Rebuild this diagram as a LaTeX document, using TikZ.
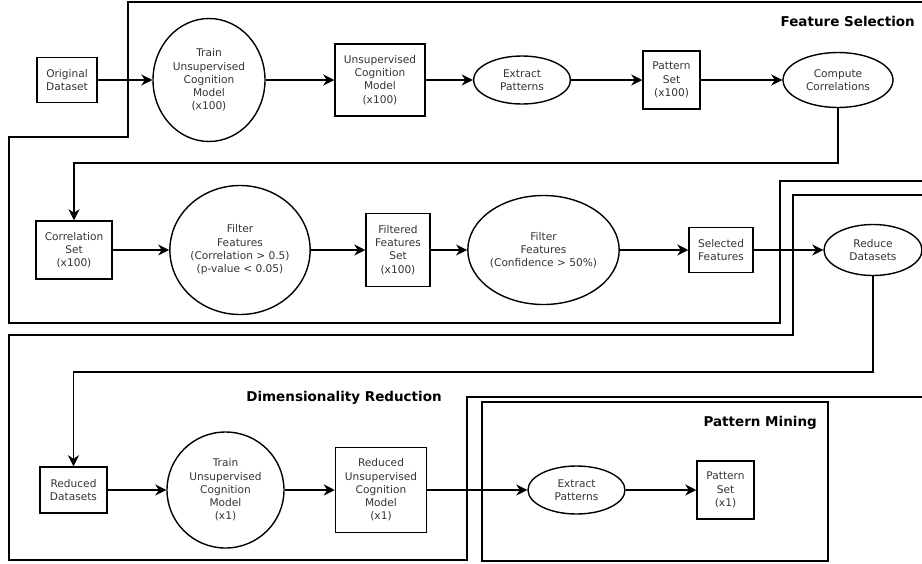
\documentclass[tikz,border=0pt]{standalone}
\usepackage{fontspec}
\setmainfont{DejaVu Sans}
\usetikzlibrary{shapes.geometric,arrows.meta}
\newcommand{\nodefont}{\fontsize{10.6}{13.3}\selectfont}
\begin{document}
\begin{tikzpicture}[x=1pt,y=-1pt,
  box/.style={draw, rectangle, line width=1.5pt, inner sep=0pt, align=center, font=\nodefont, text=black!80},
  ell/.style={draw, ellipse, line width=1.4pt, inner sep=0pt, align=center, font=\nodefont, text=black!80},
  arr/.style={-{Stealth[length=11pt,width=11pt,inset=3.5pt]}, line width=1.4pt},
  region/.style={line width=1.6pt},
  title/.style={font=\bfseries\fontsize{13.5}{16}\selectfont, inner sep=0pt}]
\useasboundingbox (0,0) rectangle (922,563);

% regions
\draw[region] (922,2) -- (128,2) -- (128,137) -- (9,137) -- (9,323) -- (780,323) -- (780,181) -- (922,181);
\draw[region] (922,195) -- (793,195) -- (793,335) -- (9,335) -- (9,560) -- (467,560) -- (467,397) -- (922,397);
\draw[region] (482,402) rectangle (828,561);

\node[title, anchor=east] (tfs) at (915,21) {Feature Selection};
\node[title] (tdr) at (344,398) {Dimensionality Reduction};
\node[title, anchor=east] (tpm) at (817,423) {Pattern Mining};

% row 1
\node[box, minimum width=60pt, minimum height=45pt] (orig) at (67,80) {Original\\Dataset};
\node[ell, minimum width=112pt, minimum height=123pt] (train1) at (209,80) {Train\\Unsupervised\\Cognition\\Model\\(x100)};
\node[box, minimum width=90pt, minimum height=72pt] (ucm) at (380,80) {Unsupervised\\Cognition\\Model\\(x100)};
\node[ell, minimum width=97pt, minimum height=48pt] (ext1) at (522,80) {Extract\\Patterns};
\node[box, minimum width=57pt, minimum height=58pt] (ps1) at (671.5,80) {Pattern\\Set\\(x100)};
\node[ell, minimum width=110pt, minimum height=55pt] (cc) at (838,80) {Compute\\Correlations};

% row 2
\node[box, minimum width=76pt, minimum height=58pt] (corrset) at (74,250) {Correlation\\Set\\(x100)};
\node[ell, minimum width=132pt, minimum height=129pt] (filt1) at (240,250) {Filter\\Features\\(Correlation > 0.5)\\(p-value < 0.05)};
\node[box, minimum width=64pt, minimum height=73pt] (ffset) at (398,250) {Filtered\\Features\\Set\\(x100)};
\node[ell, minimum width=137pt, minimum height=109pt] (filt2) at (543.5,250) {Filter\\Features\\(Confidence > 50\%)};
\node[box, minimum width=64pt, minimum height=45pt] (selfeat) at (721,250) {Selected\\Features};
\node[ell, minimum width=98pt, minimum height=51pt] (reduce) at (873,250) {Reduce\\Datasets};

% row 3
\node[box, minimum width=67pt, minimum height=46pt] (reddata) at (73.5,490) {Reduced\\Datasets};
\node[ell, minimum width=117pt, minimum height=116pt] (train2) at (225.5,490) {Train\\Unsupervised\\Cognition\\Model\\(x1)};
\node[box, minimum width=91pt, minimum height=85pt] (rucm) at (381,490) {Reduced\\Unsupervised\\Cognition\\Model\\(x1)};
\node[ell, minimum width=97pt, minimum height=48pt] (ext2) at (576.5,490) {Extract\\Patterns};
\node[box, minimum width=57pt, minimum height=58pt] (ps2) at (725.5,490) {Pattern\\Set\\(x1)};

\coordinate (c1) at (838,163);
\coordinate (c2) at (873,372);

% connectors
\draw[arr] (orig) -- (train1);
\draw[arr] (train1) -- (ucm);
\draw[arr] (ucm) -- (ext1);
\draw[arr] (ext1) -- (ps1);
\draw[arr] (ps1) -- (cc);
\draw[arr] (cc.south) -- (c1) -| (corrset.north);
\draw[arr] (corrset) -- (filt1);
\draw[arr] (filt1) -- (ffset);
\draw[arr] (ffset) -- (filt2);
\draw[arr] (filt2) -- (selfeat);
\draw[arr] (selfeat) -- (reduce);
\draw[arr] (reduce.south) -- (c2) -| (reddata.north);
\draw[arr] (reddata) -- (train2);
\draw[arr] (train2) -- (rucm);
\draw[arr] (rucm) -- (ext2);
\draw[arr] (ext2) -- (ps2);
\end{tikzpicture}
\end{document}
